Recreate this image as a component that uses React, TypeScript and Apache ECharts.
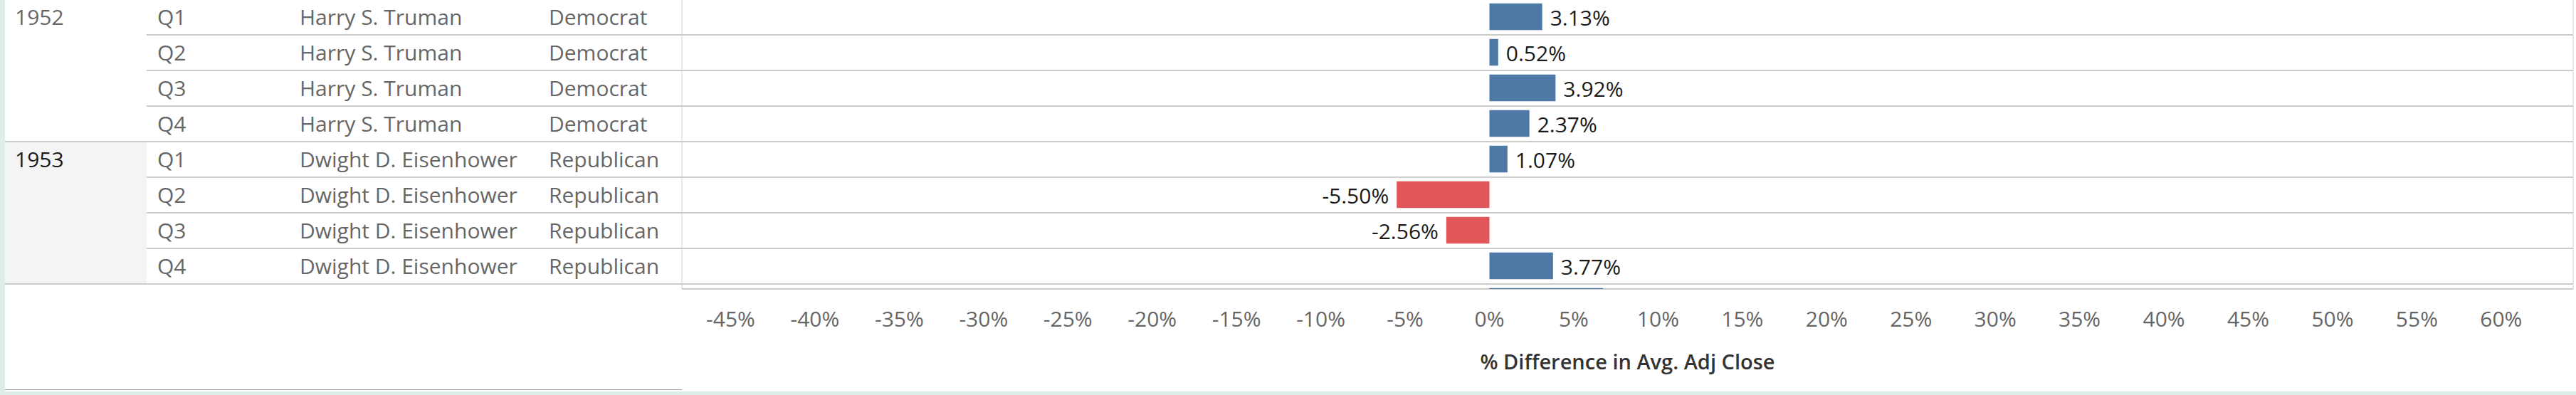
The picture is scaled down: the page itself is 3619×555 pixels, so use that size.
import React, { useEffect, useRef } from 'react';
import * as echarts from 'echarts';

// ---------------- data ----------------
const years = ['1952', '1952', '1952', '1952', '1953', '1953', '1953', '1953', '1954'];
const quarters = ['Q1', 'Q2', 'Q3', 'Q4', 'Q1', 'Q2', 'Q3', 'Q4', 'Q1'];
const presidents = [
  'Harry S. Truman', 'Harry S. Truman', 'Harry S. Truman', 'Harry S. Truman',
  'Dwight D. Eisenhower', 'Dwight D. Eisenhower', 'Dwight D. Eisenhower', 'Dwight D. Eisenhower',
  'Dwight D. Eisenhower',
];
const parties = [
  'Democrat', 'Democrat', 'Democrat', 'Democrat',
  'Republican', 'Republican', 'Republican', 'Republican', 'Republican',
];
const pctDiff = [3.13, 0.52, 3.92, 2.37, 1.07, -5.5, -2.56, 3.77, 6.74];
const xTickValues = [-45, -40, -35, -30, -25, -20, -15, -10, -5, 0, 5, 10, 15, 20, 25, 30, 35, 40, 45, 50, 55, 60];
const axisTitle = '% Difference in Avg. Adj Close';
const selectedYear = '1953';
const visibleRows = 8;

// ---------------- layout / style ----------------
const W = 3619;
const H = 555;
const FONT = '"Open Sans", "Noto Sans", sans-serif';
const ROW_H = 50;
const TOP = -1.5;
const PANE_L = 958;
const PANE_R = 3615;
const PANE_B = 406;
const YEAR_L = 7;
const QCOL_L = 206;
const X_MIN = -47.89;
const X_MAX = 64.27;
const TEAL = '#dfede9';
const LINE = '#cbcbcb';
const BLUE = '#4e79a7';
const RED = '#e15759';
const HDR = '#666666';
const FS = 30;

const isGroupStart = (i: number) => i === 0 || years[i] !== years[i - 1];

export default function App() {
  const ref = useRef<HTMLDivElement>(null);

  useEffect(() => {
    if (!ref.current) return;
    const chart = echarts.init(ref.current, undefined, { renderer: 'svg', width: W, height: H });

    const visYears = years.slice(0, visibleRows);
    const groupYears = visYears.filter((_, i) => isGroupStart(i));
    const groupColors = groupYears.map((y) => (y === selectedYear ? '#f4f4f4' : 'rgba(255,255,255,0)'));
    const groupInterval = (idx: number) => isGroupStart(idx);

    const hdrAxis = (data: string[], textX: number) => ({
      type: 'category',
      gridIndex: 2,
      inverse: true,
      data: data.slice(0, visibleRows),
      position: 'left',
      offset: -(textX - QCOL_L),
      axisLine: { show: false },
      axisTick: { show: false },
      splitLine: { show: false },
      axisLabel: {
        interval: 0,
        align: 'left',
        margin: 0,
        color: HDR,
        fontSize: FS,
        fontFamily: FONT,
      },
    });

    const option: any = {
      animation: false,
      backgroundColor: '#ffffff',
      textStyle: { fontFamily: FONT },
      grid: [
        {
          left: PANE_L, top: TOP, width: PANE_R - PANE_L, height: PANE_B - TOP,
          show: true, borderColor: '#d3d3d3', borderWidth: 1, backgroundColor: 'transparent',
          containLabel: false, outerBoundsMode: 'none',
        },
        {
          left: YEAR_L, top: TOP, width: QCOL_L - YEAR_L, height: visibleRows * ROW_H,
          containLabel: false, outerBoundsMode: 'none',
        },
        {
          left: QCOL_L, top: TOP, width: PANE_L - QCOL_L, height: visibleRows * ROW_H,
          containLabel: false, outerBoundsMode: 'none',
        },
      ],
      xAxis: [
        {
          type: 'value',
          gridIndex: 0,
          min: X_MIN,
          max: X_MAX,
          axisLine: { show: false },
          axisTick: { show: false },
          splitLine: { show: false },
          axisLabel: {
            customValues: xTickValues,
            formatter: (v: number) => `${v}%`,
            color: HDR,
            fontSize: FS,
            fontFamily: FONT,
            verticalAlign: 'middle',
            margin: 41,
          },
          name: axisTitle,
          nameLocation: 'middle',
          nameGap: 101,
          nameTextStyle: {
            color: '#333333',
            fontSize: 29,
            fontWeight: 600,
            fontFamily: FONT,
            verticalAlign: 'middle',
          },
        },
        { type: 'value', gridIndex: 1, show: false },
        { type: 'value', gridIndex: 2, show: false },
      ],
      yAxis: [
        {
          type: 'value',
          gridIndex: 0,
          inverse: true,
          min: 0,
          max: (PANE_B - TOP) / ROW_H,
          interval: 1,
          axisLine: { show: false },
          axisTick: { show: false },
          axisLabel: { show: false },
          splitLine: { show: true, lineStyle: { color: LINE, width: 2 } },
        },
        {
          type: 'category',
          gridIndex: 1,
          inverse: true,
          data: visYears,
          position: 'left',
          offset: -14,
          axisLine: { show: false },
          axisTick: { show: false },
          axisLabel: {
            interval: groupInterval,
            align: 'left',
            margin: 0,
            formatter: (v: string) => (v === selectedYear ? `{sel|${v}}` : `{n|${v}}`),
            rich: {
              sel: { color: '#1a1a1a', fontSize: FS, fontFamily: FONT },
              n: { color: HDR, fontSize: FS, fontFamily: FONT },
            },
          },
          splitLine: { show: true, interval: groupInterval, lineStyle: { color: LINE, width: 2 } },
          splitArea: { show: true, interval: groupInterval, areaStyle: { color: groupColors } },
        },
        {
          ...hdrAxis(quarters, 221),
          splitLine: { show: true, interval: 0, lineStyle: { color: LINE, width: 2 } },
        },
        hdrAxis(presidents, 421),
        hdrAxis(parties, 771),
      ],
      series: [
        {
          type: 'custom',
          xAxisIndex: 0,
          yAxisIndex: 0,
          clip: true,
          encode: { x: 0, y: 1 },
          data: pctDiff.map((v, i) => [v, i + 0.5]),
          renderItem: (params: any, api: any) => {
            const v = api.value(0) as number;
            const yc = api.value(1) as number;
            const p0 = api.coord([0, yc]);
            const p1 = api.coord([v, yc]);
            const band = api.size([0, 1])[1];
            const h = band * 0.75;
            const cs = params.coordSys;
            const rect = echarts.graphic.clipRectByRect(
              { x: Math.min(p0[0], p1[0]), y: p0[1] - h / 2, width: Math.abs(p1[0] - p0[0]), height: h },
              { x: cs.x, y: cs.y, width: cs.width, height: cs.height }
            );
            const children: any[] = [];
            if (rect) {
              children.push({ type: 'rect', shape: rect, style: { fill: v >= 0 ? BLUE : RED } });
            }
            if (p0[1] < cs.y + cs.height) {
              children.push({
                type: 'text',
                x: v >= 0 ? p1[0] + 11 : p1[0] - 11,
                y: p0[1] + 1,
                style: {
                  text: `${v.toFixed(2)}%`,
                  fill: '#1a1a1a',
                  fontSize: FS,
                  fontFamily: FONT,
                  align: v >= 0 ? 'left' : 'right',
                  verticalAlign: 'middle',
                },
              });
            }
            return { type: 'group', children };
          },
        },
      ],
      graphic: [
        { type: 'rect', shape: { x: 0, y: 0, width: YEAR_L, height: H }, style: { fill: TEAL }, silent: true },
        { type: 'rect', shape: { x: 0, y: 550, width: W, height: H - 550 }, style: { fill: TEAL }, silent: true },
        {
          type: 'line',
          shape: { x1: YEAR_L, y1: 547.5, x2: PANE_L, y2: 547.5 },
          style: { stroke: '#a6a6a6', lineWidth: 1 },
          silent: true,
        },
      ],
    };

    chart.setOption(option);
    return () => chart.dispose();
  }, []);

  return (
    <div
      ref={ref}
      style={{ position: 'fixed', left: 0, top: 0, width: W, height: H, background: '#ffffff' }}
    />
  );
}
